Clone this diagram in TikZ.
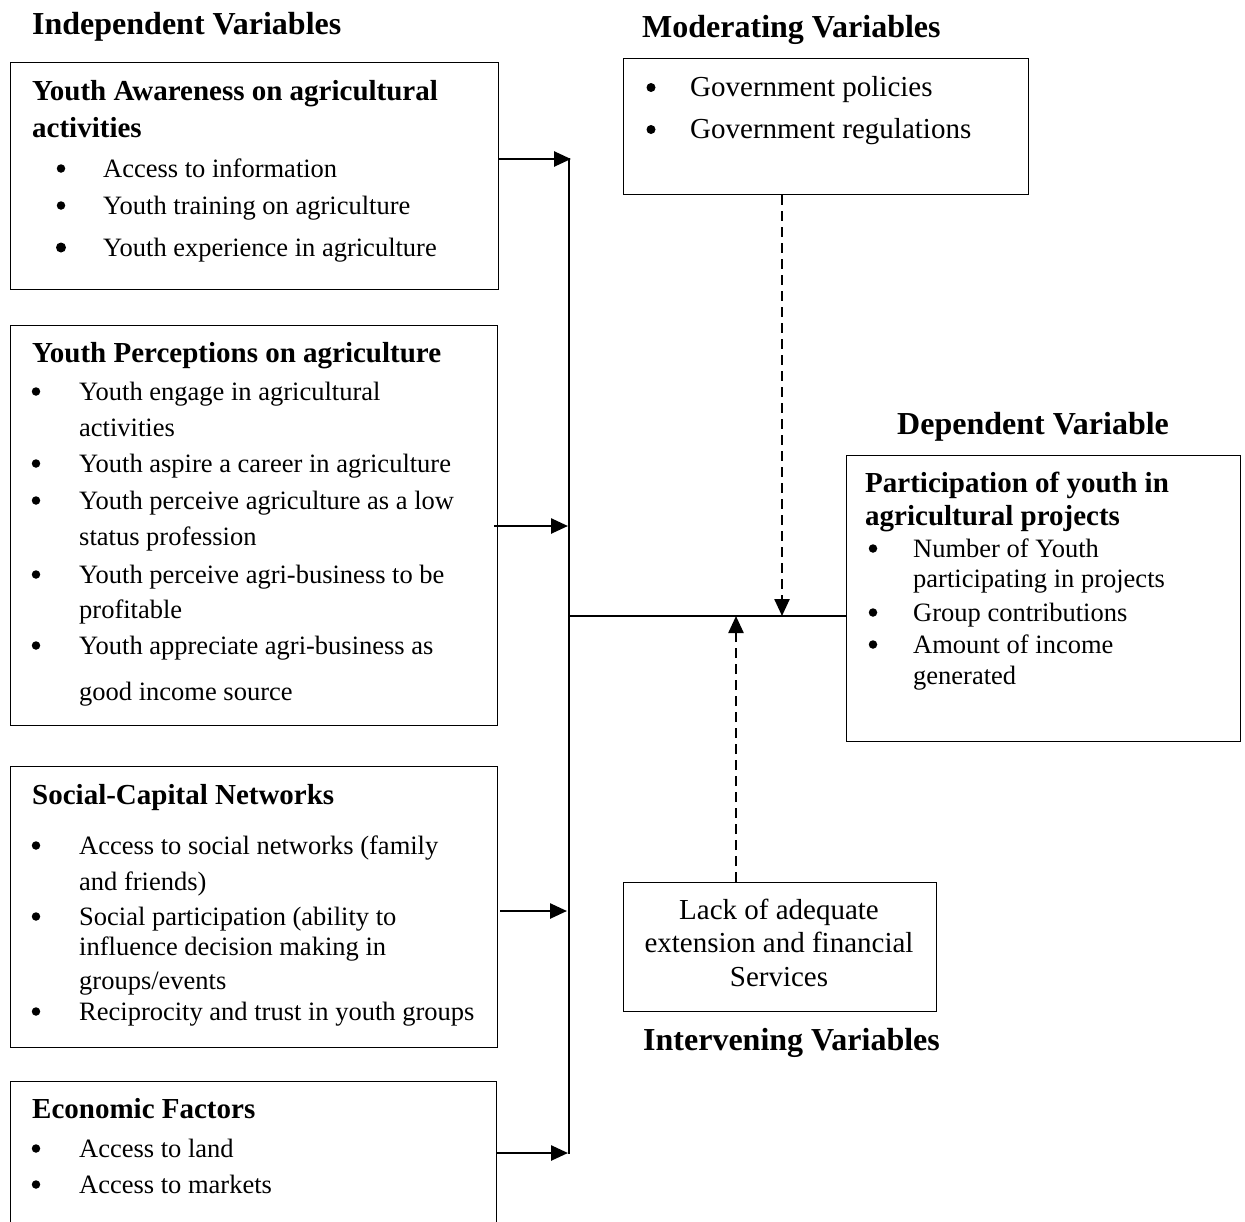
\documentclass[tikz,border=0pt]{standalone}
\usepackage{fontspec}
\setmainfont{Liberation Serif}
\usetikzlibrary{arrows.meta}
\newcommand\bodyfnt{\fontsize{26.5}{32}\selectfont}
\newcommand\bigfnt{\fontsize{29}{34}\selectfont}
\newcommand\headfnt{\fontsize{29}{34}\selectfont\bfseries}
\newcommand\titlefnt{\fontsize{32}{38}\selectfont\bfseries}
\begin{document}
\begin{tikzpicture}[x=1pt,y=-1pt,
  box/.style={draw, line width=1.3pt, inner sep=0pt, anchor=north west},
  txt/.style={anchor=base west, inner sep=0pt, font=\bodyfnt},
  btxt/.style={anchor=base west, inner sep=0pt, font=\bigfnt},
  ctxt/.style={anchor=base, inner sep=0pt, font=\bigfnt},
  head/.style={anchor=base west, inner sep=0pt, font=\headfnt},
  ttl/.style={anchor=base west, inner sep=0pt, font=\titlefnt},
  bul/.style={circle, fill, inner sep=0pt, minimum size=8.5pt, yshift=8.5pt},
  arr/.style={line width=2.6pt, -{Triangle[length=17pt,width=15pt]}},
  darr/.style={line width=2.4pt, dash pattern=on 10pt off 6pt, -{Triangle[length=17pt,width=15pt]}},
  solid line/.style={line width=2.8pt}]
\useasboundingbox[fill=white] (0,0) rectangle (1245,1221);

% titles
\node[ttl] (tInd) at (32,34) {Independent Variables};
\node[ttl] (tMod) at (642,37) {Moderating Variables};
\node[ttl] (tDep) at (897,434) {Dependent Variable};
\node[ttl] (tInt) at (643,1050) {Intervening Variables};

% box 1
\node[box, minimum width=488pt, minimum height=227pt] (b1) at (10,62) {};
\node[head] (h1a) at (32,100) {Youth Awareness on agricultural};
\node[head] (h1b) at (32,137) {activities};
\node[bul] (p11) at (61,177) {};
\node[txt] (l11) at (103,177) {Access to information};
\node[bul] (p12) at (61,214) {};
\node[txt] (l12) at (103,214) {Youth training on agriculture};
\node[bul, minimum size=10pt] (p13) at (61,256) {};
\node[txt] (l13) at (103,256) {Youth experience in agriculture};

% box 2
\node[box, minimum width=487pt, minimum height=400pt] (b2) at (10,325) {};
\node[head] (h2) at (32,362) {Youth Perceptions on agriculture};
\node[bul] (p21) at (36,400) {};
\node[txt] (l21) at (79,400) {Youth engage in agricultural};
\node[txt] (l21b) at (79,436) {activities};
\node[bul] (p22) at (36,472) {};
\node[txt] (l22) at (79,472) {Youth aspire a career in agriculture};
\node[bul] (p23) at (36,509) {};
\node[txt] (l23) at (79,509) {Youth perceive agriculture as a low};
\node[txt] (l23b) at (79,545) {status profession};
\node[bul] (p24) at (36,583) {};
\node[txt] (l24) at (79,583) {Youth perceive agri-business to be};
\node[txt] (l24b) at (79,618) {profitable};
\node[bul] (p25) at (36,654) {};
\node[txt] (l25) at (79,654) {Youth appreciate agri-business as};
\node[txt] (l25b) at (79,700) {good income source};

% box 3
\node[box, minimum width=487pt, minimum height=281pt] (b3) at (10,766) {};
\node[head] (h3) at (32,804) {Social-Capital Networks};
\node[bul] (p31) at (36,854) {};
\node[txt] (l31) at (79,854) {Access to social networks (family};
\node[txt] (l31b) at (79,890) {and friends)};
\node[bul] (p32) at (36,925) {};
\node[txt] (l32) at (79,925) {Social participation (ability to};
\node[txt] (l32b) at (79,955) {influence decision making in};
\node[txt] (l32c) at (79,989) {groups/events};
\node[bul] (p33) at (36,1020) {};
\node[txt] (l33) at (79,1020) {Reciprocity and trust in youth groups};

% box 4 (cut by page edge)
\node[box, minimum width=486pt, minimum height=160pt] (b4) at (10,1081) {};
\node[head] (h4) at (32,1118) {Economic Factors};
\node[bul] (p41) at (36,1157) {};
\node[txt] (l41) at (79,1157) {Access to land};
\node[bul] (p42) at (36,1193) {};
\node[txt] (l42) at (79,1193) {Access to markets};

% moderating box
\node[box, minimum width=405pt, minimum height=136pt] (mod) at (623,58) {};
\node[bul, minimum size=9pt] (pm1) at (651,96) {};
\node[btxt] (lm1) at (690,96) {Government policies};
\node[bul, minimum size=9pt] (pm2) at (651,138) {};
\node[btxt] (lm2) at (690,138) {Government regulations};

% dependent box
\node[box, minimum width=394pt, minimum height=286pt] (dep) at (846,455) {};
\node[head] (hd1) at (865,492) {Participation of youth in};
\node[head] (hd2) at (865,525) {agricultural projects};
\node[bul] (pd1) at (873,557) {};
\node[txt] (ld1) at (913,557) {Number of Youth};
\node[txt] (ld1b) at (913,587) {participating in projects};
\node[bul] (pd2) at (873,621) {};
\node[txt] (ld2) at (913,621) {Group contributions};
\node[bul] (pd3) at (873,653) {};
\node[txt] (ld3) at (913,653) {Amount of income};
\node[txt] (ld3b) at (913,684) {generated};

% intervening box
\node[box, minimum width=313pt, minimum height=129pt] (int) at (623,882) {};
\node[ctxt] (li1) at (779,919) {Lack of adequate};
\node[ctxt] (li2) at (779,952) {extension and financial};
\node[ctxt] (li3) at (779,986) {Services};

% connectors
\coordinate (j1) at (571,159);
\coordinate (j2) at (568,526);
\coordinate (j3) at (567,911);
\coordinate (j4) at (568,1153);
\coordinate (jt) at (569,158);
\coordinate (jb) at (569,1154);
\coordinate (jm) at (569,616);
\coordinate (dm) at (782,616);
\coordinate (di) at (736,616);

\draw[solid line] (jt) -- (jb);
\draw[arr] (b1.east |- j1) -- (j1);
\draw[arr] (494,526) -- (j2);
\draw[arr] (500,911) -- (j3);
\draw[arr] (b4.east |- j4) -- (j4);
\draw[line width=2.4pt] (jm) -- (dep.west |- jm);
\draw[darr] (mod.south -| dm) -- (dm);
\draw[darr] (int.north -| di) -- (di);
\end{tikzpicture}
\end{document}
